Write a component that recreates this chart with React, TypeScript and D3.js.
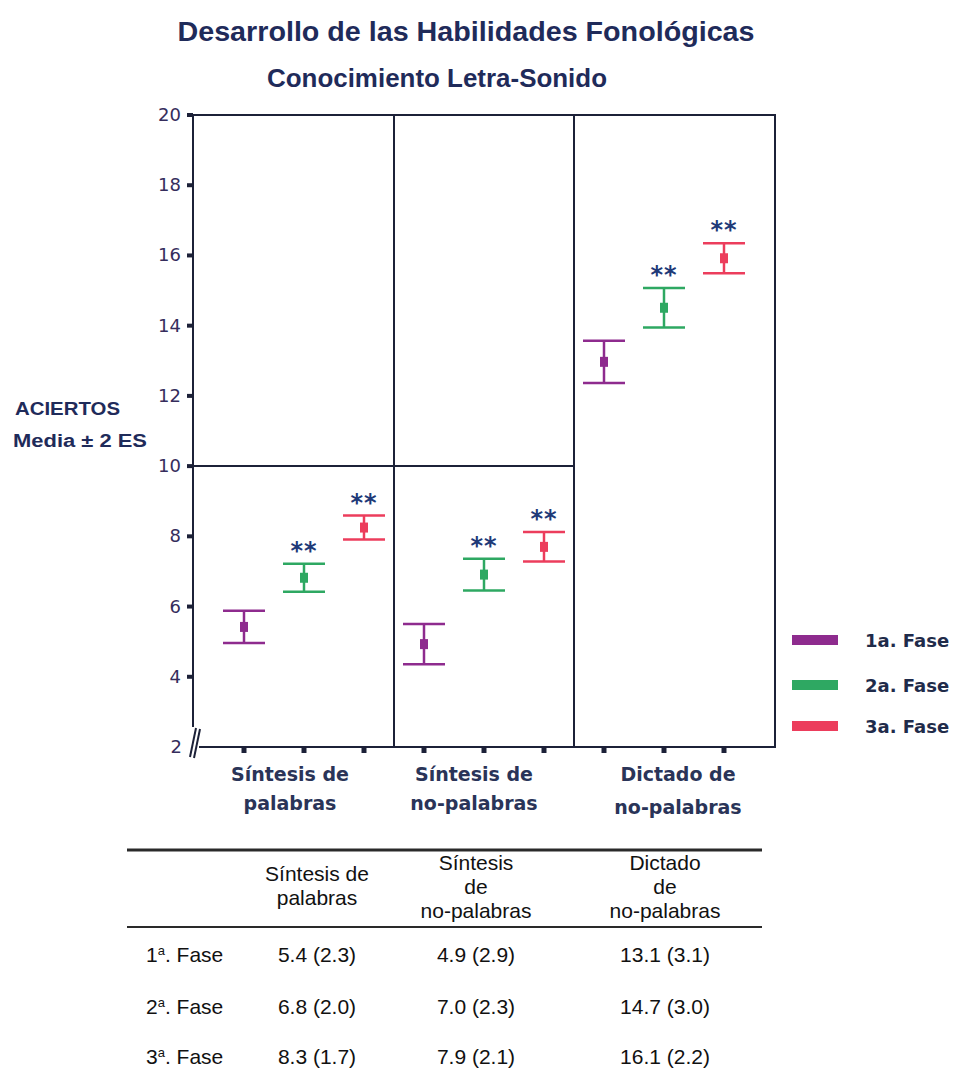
import { useEffect, useRef } from "react";
import * as d3 from "d3";

// categories and phases
const categoryLines = [
  ["Síntesis de", "palabras"],
  ["Síntesis de", "no-palabras"],
  ["Dictado de", "no-palabras"],
];
const phaseNames = ["1a. Fase", "2a. Fase", "3a. Fase"];
const phaseColors = ["#8e2b8e", "#2ea862", "#ec3d5c"];

// mean per category, one array per phase
const fase1Means = [5.42, 4.93, 12.97];
const fase2Means = [6.82, 6.91, 14.51];
const fase3Means = [8.25, 7.7, 15.92];
// half height of the error bar (2 ES)
const fase1Err = [0.46, 0.57, 0.6];
const fase2Err = [0.4, 0.45, 0.56];
const fase3Err = [0.34, 0.42, 0.43];
// "**" marks
const fase1Stars = [false, false, false];
const fase2Stars = [true, true, true];
const fase3Stars = [true, true, true];

const yTicks = [2, 4, 6, 8, 10, 12, 14, 16, 18, 20];

// table below the chart
const tableHeaders = [
  ["Síntesis de", "palabras"],
  ["Síntesis", "de", "no-palabras"],
  ["Dictado", "de", "no-palabras"],
];
const tableRowLabels = ["1", "2", "3"];
const tableMeans = [
  [5.4, 4.9, 13.1],
  [6.8, 7.0, 14.7],
  [8.3, 7.9, 16.1],
];
const tableSDs = [
  [2.3, 2.9, 3.1],
  [2.0, 2.3, 3.0],
  [1.7, 2.1, 2.2],
];

const W = 953;
const H = 1078;

export default function App() {
  const svgRef = useRef<SVGSVGElement>(null);

  useEffect(() => {
    if (!svgRef.current) return;
    const svg = d3.select(svgRef.current);
    svg.selectAll("*").remove();

    const navy = "#1f2b5a";
    const frame = "#1c2138";
    const chartFont = "'DejaVu Sans', sans-serif";
    const tableFont = "'Liberation Sans', Arial, sans-serif";

    const means = [fase1Means, fase2Means, fase3Means];
    const errs = [fase1Err, fase2Err, fase3Err];
    const stars = [fase1Stars, fase2Stars, fase3Stars];

    const keys: string[] = [];
    categoryLines.forEach((_, c) => phaseNames.forEach((_, p) => keys.push(`${c}-${p}`)));

    const x = d3.scalePoint<string>().domain(keys).range([193, 775]).padding(0.85);
    const y = d3.scaleLinear().domain([2, 20]).range([747, 115]);

    // titles
    svg.append("text")
      .attr("x", 466).attr("y", 41)
      .attr("text-anchor", "middle")
      .attr("font-family", "'Liberation Sans', Arial, sans-serif")
      .attr("font-weight", "bold").attr("font-size", 27)
      .attr("fill", navy)
      .attr("textLength", 577).attr("lengthAdjust", "spacingAndGlyphs")
      .text("Desarrollo de las Habilidades Fonológicas");

    svg.append("text")
      .attr("x", 437).attr("y", 87)
      .attr("text-anchor", "middle")
      .attr("font-family", "'Liberation Sans', Arial, sans-serif")
      .attr("font-weight", "bold").attr("font-size", 25)
      .attr("fill", navy)
      .attr("textLength", 340).attr("lengthAdjust", "spacingAndGlyphs")
      .text("Conocimiento Letra-Sonido");

    // y axis title
    svg.append("text")
      .attr("x", 15).attr("y", 415)
      .attr("font-family", "'Liberation Sans', Arial, sans-serif")
      .attr("font-weight", "bold").attr("font-size", 18)
      .attr("fill", navy)
      .attr("textLength", 105).attr("lengthAdjust", "spacingAndGlyphs")
      .text("ACIERTOS");
    svg.append("text")
      .attr("x", 13).attr("y", 447)
      .attr("font-family", "'Liberation Sans', Arial, sans-serif")
      .attr("font-weight", "bold").attr("font-size", 18)
      .attr("fill", navy)
      .attr("textLength", 134).attr("lengthAdjust", "spacingAndGlyphs")
      .text("Media  ± 2 ES");

    const left = 193;
    const right = 775;
    const top = y(20);
    const bottom = y(2);
    const div1 = ((x("0-2") as number) + (x("1-0") as number)) / 2;
    const div2 = ((x("1-2") as number) + (x("2-0") as number)) / 2;

    const g = svg.append("g")
      .attr("stroke", frame).attr("stroke-width", 2).attr("fill", "none");

    // frame with axis break
    g.append("path").attr("d", `M${left},${bottom - 20}V${top}H${right}V${bottom}H${left + 6}`);
    g.append("line").attr("x1", div1).attr("x2", div1).attr("y1", top).attr("y2", bottom);
    g.append("line").attr("x1", div2).attr("x2", div2).attr("y1", top).attr("y2", bottom);
    g.append("line").attr("x1", left).attr("x2", div2).attr("y1", y(10)).attr("y2", y(10));
    g.append("line").attr("x1", left - 3).attr("x2", left + 3).attr("y1", bottom + 10).attr("y2", bottom - 19);
    g.append("line").attr("x1", left + 1).attr("x2", left + 7).attr("y1", bottom + 11).attr("y2", bottom - 18);

    // y ticks
    yTicks.forEach((t) => {
      if (t > 2) {
        svg.append("rect")
          .attr("x", left - 6).attr("y", y(t) - 2)
          .attr("width", 6).attr("height", 4)
          .attr("fill", frame);
      }
      svg.append("text")
        .attr("x", t === 2 ? left - 11 : left - 12).attr("y", y(t) + 6)
        .attr("text-anchor", "end")
        .attr("font-family", chartFont).attr("font-size", 18)
        .attr("fill", "#352d5c")
        .text(t);
    });

    // x ticks
    keys.forEach((k) => {
      svg.append("rect")
        .attr("x", (x(k) as number) - 2.5).attr("y", bottom + 1)
        .attr("width", 5).attr("height", 5)
        .attr("fill", frame);
    });

    // category labels
    const catCenters = [290, 474, 678];
    categoryLines.forEach((lines, c) => {
      lines.forEach((line, i) => {
        svg.append("text")
          .attr("x", catCenters[c]).attr("y", bottom + 34 + i * (c === 2 ? 33 : 29))
          .attr("text-anchor", "middle")
          .attr("font-family", chartFont).attr("font-weight", "bold").attr("font-size", 19)
          .attr("fill", "#2a3458")
          .text(line);
      });
    });

    // error bars
    phaseNames.forEach((_, p) => {
      const col = phaseColors[p];
      categoryLines.forEach((_, c) => {
        const cx = x(`${c}-${p}`) as number;
        const m = means[p][c];
        const e = errs[p][c];
        const eg = svg.append("g").attr("stroke", col).attr("stroke-width", 2.5);
        eg.append("line").attr("x1", cx).attr("x2", cx).attr("y1", y(m + e)).attr("y2", y(m - e));
        eg.append("line").attr("x1", cx - 21).attr("x2", cx + 21).attr("y1", y(m + e)).attr("y2", y(m + e));
        eg.append("line").attr("x1", cx - 21).attr("x2", cx + 21).attr("y1", y(m - e)).attr("y2", y(m - e));
        svg.append("rect")
          .attr("x", cx - 4).attr("y", y(m) - 5)
          .attr("width", 8).attr("height", 10)
          .attr("fill", col);
        if (stars[p][c]) {
          svg.append("text")
            .attr("x", cx).attr("y", y(m + e) - 5)
            .attr("text-anchor", "middle")
            .attr("font-family", chartFont).attr("font-weight", "bold").attr("font-size", 24)
            .attr("letter-spacing", 1)
            .attr("fill", "#1f3a78")
            .text("**");
        }
      });
    });

    // legend
    const legendY = [640, 685, 726];
    phaseNames.forEach((name, p) => {
      svg.append("rect")
        .attr("x", 792).attr("y", legendY[p] - 5)
        .attr("width", 46).attr("height", 10)
        .attr("fill", phaseColors[p]);
      svg.append("text")
        .attr("x", 865).attr("y", legendY[p] + 7)
        .attr("font-family", chartFont).attr("font-weight", "bold").attr("font-size", 18)
        .attr("fill", "#1f2b4a")
        .text(name);
    });

    // table
    const tl = 127;
    const tr = 762;
    svg.append("line").attr("x1", tl).attr("x2", tr).attr("y1", 850).attr("y2", 850)
      .attr("stroke", "#2a2a2a").attr("stroke-width", 3);
    svg.append("line").attr("x1", tl).attr("x2", tr).attr("y1", 927).attr("y2", 927)
      .attr("stroke", "#2a2a2a").attr("stroke-width", 2);

    const colX = [317, 476, 665];
    tableHeaders.forEach((lines, c) => {
      const ys = lines.length === 2 ? [881, 905] : [870, 894, 918];
      lines.forEach((line, i) => {
        svg.append("text")
          .attr("x", colX[c]).attr("y", ys[i])
          .attr("text-anchor", "middle")
          .attr("font-family", tableFont).attr("font-size", 21)
          .attr("fill", "#111")
          .text(line);
      });
    });

    const rowY = [962, 1014, 1064];
    tableRowLabels.forEach((lab, r) => {
      const t = svg.append("text")
        .attr("x", 146).attr("y", rowY[r])
        .attr("font-family", tableFont).attr("font-size", 21)
        .attr("fill", "#111");
      t.append("tspan").text(lab);
      t.append("tspan").attr("dy", -7).attr("font-size", 13).text("a");
      t.append("tspan").attr("dy", 7).text(". Fase");
      colX.forEach((cx, c) => {
        svg.append("text")
          .attr("x", cx).attr("y", rowY[r])
          .attr("text-anchor", "middle")
          .attr("font-family", tableFont).attr("font-size", 21)
          .attr("fill", "#111")
          .text(`${tableMeans[r][c].toFixed(1)} (${tableSDs[r][c].toFixed(1)})`);
      });
    });
  }, []);

  return (
    <svg
      ref={svgRef}
      width={W}
      height={H}
      viewBox={`0 0 ${W} ${H}`}
      style={{ position: "absolute", left: 0, top: 0, background: "#fff" }}
    />
  );
}
